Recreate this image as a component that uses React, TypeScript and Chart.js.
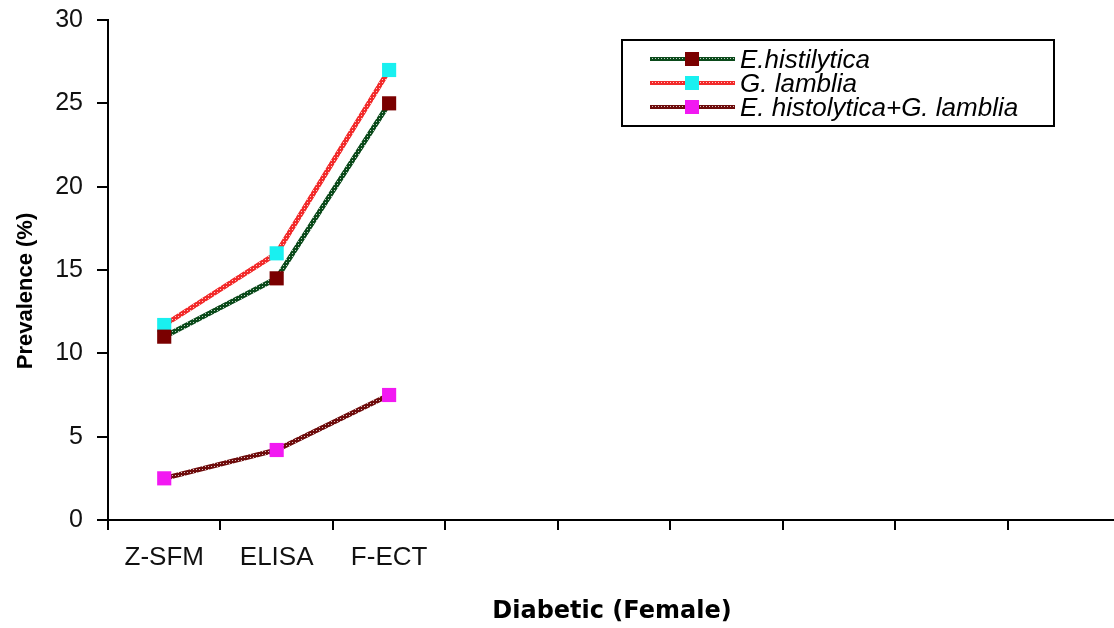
import React, { useEffect, useRef } from "react";
import { Chart, registerables } from "chart.js";

Chart.register(...registerables);

const categories = ["Z-SFM", "ELISA", "F-ECT", "", "", "", "", "", ""];
const eHistolytica = [11.0, 14.5, 25.0];
const gLamblia = [11.7, 16.0, 27.0];
const combined = [2.5, 4.2, 7.5];
const seriesLabels = ["E.histilytica", "G. lamblia", "E. histolytica+G. lamblia"];
const yTicks = [0, 5, 10, 15, 20, 25, 30];
const xTitle = "Diabetic (Female)";
const yTitle = "Prevalence (%)";

function chainPattern(color: string): CanvasPattern | string {
  const c = document.createElement("canvas");
  c.width = 3;
  c.height = 3;
  const g = c.getContext("2d");
  if (!g) return color;
  g.fillStyle = color;
  g.fillRect(0, 0, 3, 3);
  g.fillStyle = "rgba(255,255,255,0.75)";
  g.fillRect(1, 1, 1, 1);
  const p = g.createPattern(c, "repeat");
  return p || color;
}

const decorPlugin = {
  id: "decor",
  afterDraw(chart: any) {
    const ctx = chart.ctx;
    ctx.save();
    // axis titles
    ctx.fillStyle = "#000";
    ctx.textAlign = "center";
    ctx.textBaseline = "alphabetic";
    ctx.font = "bold 24px 'DejaVu Sans', Tahoma, sans-serif";
    ctx.fillText(xTitle, 612, 618);
    ctx.save();
    ctx.translate(32, 291);
    ctx.rotate(-Math.PI / 2);
    ctx.font = "bold 22px 'Liberation Sans', Arial, sans-serif";
    ctx.fillText(yTitle, 0, 0);
    ctx.restore();
    // boxed legend
    const x0 = 622, y0 = 40, w = 432, h = 86;
    ctx.fillStyle = "#ffffff";
    ctx.fillRect(x0, y0, w, h);
    ctx.strokeStyle = "#000000";
    ctx.lineWidth = 2;
    ctx.strokeRect(x0, y0, w, h);
    chart.data.datasets.forEach((ds: any, i: number) => {
      const y = 59 + i * 24;
      ctx.strokeStyle = ds.borderColor;
      ctx.lineWidth = 4;
      ctx.beginPath();
      ctx.moveTo(650, y);
      ctx.lineTo(735, y);
      ctx.stroke();
      ctx.fillStyle = ds.pointBackgroundColor;
      ctx.fillRect(685, y - 7, 14, 14);
      ctx.fillStyle = "#000000";
      ctx.font = "italic 26px 'Liberation Sans', Arial, sans-serif";
      ctx.textBaseline = "alphabetic";
      ctx.textAlign = "left";
      ctx.fillText(ds.label, 740, y + 9);
    });
    ctx.restore();
  },
};

export default function App() {
  const ref = useRef<HTMLCanvasElement>(null);
  useEffect(() => {
    document.body.style.margin = "0";
    const mk = (label: string, data: number[], line: string, marker: string) => ({
      label,
      data,
      borderColor: chainPattern(line),
      borderWidth: 5,
      pointStyle: "rect",
      pointRadius: 10,
      pointHoverRadius: 10,
      pointBackgroundColor: marker,
      pointBorderColor: marker,
      pointBorderWidth: 0,
      tension: 0,
      fill: false,
    });
    const tickFont = { family: "'Liberation Sans', Arial, sans-serif", size: 26 };
    const chart = new Chart(ref.current!, {
      type: "line",
      data: {
        labels: categories,
        datasets: [
          mk(seriesLabels[0], eHistolytica, "#0a4a1a", "#7a0000"),
          mk(seriesLabels[1], gLamblia, "#f22a2a", "#19f0f0"),
          mk(seriesLabels[2], combined, "#6e0c0c", "#f219f2"),
        ],
      },
      options: {
        animation: false,
        responsive: false,
        maintainAspectRatio: false,
        layout: { padding: { left: 0, right: 0, top: 20, bottom: 0 } },
        plugins: { legend: { display: false }, tooltip: { enabled: false } },
        scales: {
          x: {
            type: "category",
            offset: true,
            grid: {
              offset: true,
              drawOnChartArea: false,
              drawTicks: true,
              tickLength: 10,
              color: "#000",
              lineWidth: 2,
            },
            border: { color: "#000", width: 2 },
            ticks: {
              color: "#111",
              padding: 12,
              autoSkip: false,
              maxRotation: 0,
              font: tickFont,
            },
            afterFit(s: any) {
              s.height = 108;
              s.paddingLeft = 0;
              s.paddingRight = 0;
            },
          },
          y: {
            min: 0,
            max: 30,
            afterBuildTicks(s: any) {
              s.ticks = yTicks.map((v) => ({ value: v }));
            },
            grid: {
              drawOnChartArea: false,
              drawTicks: true,
              tickLength: 11,
              color: "#000",
              lineWidth: 2,
            },
            border: { color: "#000", width: 2 },
            ticks: {
              color: "#111",
              padding: 14,
              font: { family: "'Liberation Sans', Arial, sans-serif", size: 25 },
            },
            afterFit(s: any) {
              s.width = 108;
              s.paddingTop = 0;
              s.paddingBottom = 0;
            },
          },
        },
      },
      plugins: [decorPlugin],
    });
    return () => chart.destroy();
  }, []);
  return (
    <div style={{ position: "absolute", left: 0, top: 0, width: 1114, height: 628, overflow: "hidden", background: "#fff" }}>
      <canvas ref={ref} width={1130} height={628} style={{ display: "block" }} />
    </div>
  );
}
